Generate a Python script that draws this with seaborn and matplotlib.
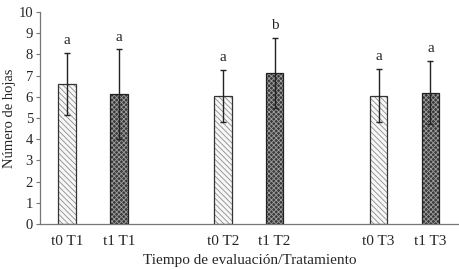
import numpy as np
import pandas as pd
import matplotlib
matplotlib.use("Agg")
import matplotlib.pyplot as plt
import seaborn as sns

# -------------------- DATA --------------------
labels = ["t0 T1", "t1 T1", "t0 T2", "t1 T2", "t0 T3", "t1 T3"]
positions = [0, 1, 3, 4, 6, 7]
means = [6.6, 6.13, 6.04, 7.1, 6.04, 6.2]
sds = [1.47, 2.1, 1.22, 1.65, 1.25, 1.5]
letters = ["a", "a", "a", "b", "a", "a"]
tiempo = ["t0", "t1", "t0", "t1", "t0", "t1"]

df = pd.DataFrame({"pos": positions, "media": means, "sd": sds, "tiempo": tiempo})

# -------------------- STYLE --------------------
sns.set_style("white")
plt.rcParams["font.family"] = ["Liberation Serif", "DejaVu Serif"]
plt.rcParams["font.size"] = 10
plt.rcParams["hatch.linewidth"] = 0.6

fig = plt.figure(figsize=(4.59, 2.70), dpi=100)
ax = fig.add_axes([0.087, 0.170, 0.913, 0.786])

sns.barplot(data=df, x="pos", y="media", native_scale=True, width=0.34,
            errorbar=None, color="white", ax=ax)

# hatch styles: light diagonal for t0, dark checkered for t1
for p, t in zip(ax.patches, tiempo):
    if t == "t0":
        p.set_facecolor("#f7f7f7")
        p.set_hatch("\\\\\\\\\\\\")
        p.set_edgecolor("#333333")
        p._hatch_color = (0.55, 0.55, 0.55, 1.0)
    else:
        p.set_facecolor("#3a3a3a")
        p.set_hatch("xxxxxxx")
        p.set_edgecolor("#222222")
        p._hatch_color = (0.62, 0.62, 0.62, 1.0)
    p.set_linewidth(0.9)

ax.errorbar(df["pos"], df["media"], yerr=df["sd"], fmt="none",
            ecolor="#222222", elinewidth=1.0, capsize=2, capthick=1.0)

for x, m, s, l in zip(positions, means, sds, letters):
    ax.text(x, m + s + 0.42, l, ha="center", va="baseline", fontsize=11)

# -------------------- AXES --------------------
ax.set_xlim(-0.52, 7.55)
ax.set_ylim(0, 10)
ax.set_yticks(range(0, 11))
ax.set_xticks(positions)
ax.set_xticklabels(labels)
ax.tick_params(axis="x", length=0, pad=8, labelsize=11)
ax.tick_params(axis="y", length=3, width=0.8, color="#777777", direction="out",
               pad=2, labelsize=10.5, left=True)
for side in ["top", "right"]:
    ax.spines[side].set_visible(False)
for side in ["left", "bottom"]:
    ax.spines[side].set_color("#777777")
    ax.spines[side].set_linewidth(0.9)

ax.set_xlabel("Tiempo de evaluación/Tratamiento", fontsize=11, labelpad=4)
ax.set_ylabel("Número de hojas", fontsize=10.5, labelpad=2)

fig.savefig("out.png", dpi=100)
